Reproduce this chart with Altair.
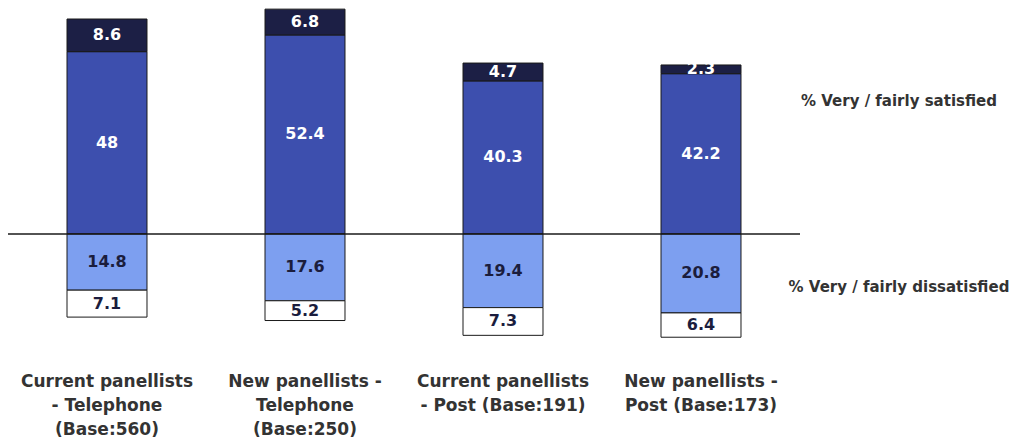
import altair as alt
import pandas as pd

categories = ["Current panellists - Telephone", "New panellists - Telephone",
              "Current panellists - Post", "New panellists - Post"]
label_lines = [
    ["Current panellists", "- Telephone", "(Base:560)"],
    ["New panellists -", "Telephone", "(Base:250)"],
    ["Current panellists", "- Post (Base:191)"],
    ["New panellists  -", "Post (Base:173)"],
]
very_satisfied = [8.6, 6.8, 4.7, 2.3]
fairly_satisfied = [48, 52.4, 40.3, 42.2]
fairly_dissatisfied = [14.8, 17.6, 19.4, 20.8]
very_dissatisfied = [7.1, 5.2, 7.3, 6.4]

series = ["Fairly satisfied", "Very satisfied", "Fairly dissatisfied", "Very dissatisfied"]
colors = ["#3d4fae", "#1c1f45", "#7d9ff0", "#ffffff"]
text_colors = ["#ffffff", "#ffffff", "#1b1d3d", "#1b1d3d"]

rows = []
for i, c in enumerate(categories):
    fs, vs = fairly_satisfied[i], very_satisfied[i]
    fd, vd = fairly_dissatisfied[i], very_dissatisfied[i]
    segs = [
        (0, 0, fs, fs),
        (1, fs, fs + vs, vs),
        (2, 0, -fd, fd),
        (3, -fd, -fd - vd, vd),
    ]
    for k, y0, y1, v in segs:
        rows.append({"cat": c, "series": series[k], "y0": y0, "y1": y1,
                     "mid": (y0 + y1) / 2, "value": v, "tc": text_colors[k]})
df = pd.DataFrame(rows)

lab_df = pd.DataFrame({"cat": categories, "lines": label_lines})

xenc = alt.X("cat:N", sort=categories, axis=None,
             scale=alt.Scale(paddingInner=0.596, paddingOuter=0.298))
yscale = alt.Scale(domain=[-54, 59.5], nice=False, zero=False)

bars = alt.Chart(df).mark_bar(stroke="#1a1a1a", strokeWidth=1).encode(
    x=xenc,
    y=alt.Y("y0:Q", scale=yscale, axis=None),
    y2="y1:Q",
    color=alt.Color("series:N", scale=alt.Scale(domain=series, range=colors), legend=None),
)

texts = alt.Chart(df).mark_text(font="DejaVu Sans", fontSize=16, fontWeight="bold",
                                baseline="middle").encode(
    x=xenc,
    y=alt.Y("mid:Q", scale=yscale, axis=None),
    text=alt.Text("value:Q"),
    color=alt.Color("tc:N", scale=None),
)

zero = alt.Chart(pd.DataFrame({"z": [0]})).mark_rule(color="#1a1a1a", strokeWidth=1.5).encode(
    y=alt.Y("z:Q", scale=yscale, axis=None),
    x=alt.value(0), x2=alt.value(792),
)

cat_labels = alt.Chart(lab_df).mark_text(font="DejaVu Sans", fontSize=17, fontWeight="bold",
                                         color="#333333", baseline="middle", lineHeight=24,
                                         align="center").encode(
    x=xenc,
    y=alt.value(374),
    text="lines",
)

side_df = pd.DataFrame({"t": ["% Very / fairly satisfied", "% Very / fairly dissatisfied"],
                        "v": [35, -14]})
side = alt.Chart(side_df).mark_text(font="DejaVu Sans", fontSize=15, fontWeight="bold",
                                    color="#333333", align="center", baseline="middle").encode(
    x=alt.value(891),
    y=alt.Y("v:Q", scale=yscale, axis=None),
    text="t",
)

chart = alt.layer(bars, zero, texts, cat_labels, side).properties(
    width=792, height=431,
    background="white",
    autosize=alt.AutoSizeParams(type="none"),
    padding={"left": 0, "top": 0, "right": 209, "bottom": 0},
).configure_view(strokeWidth=0, stroke=None)

chart.save("out.html", embed_options={"renderer": "svg", "actions": False})
